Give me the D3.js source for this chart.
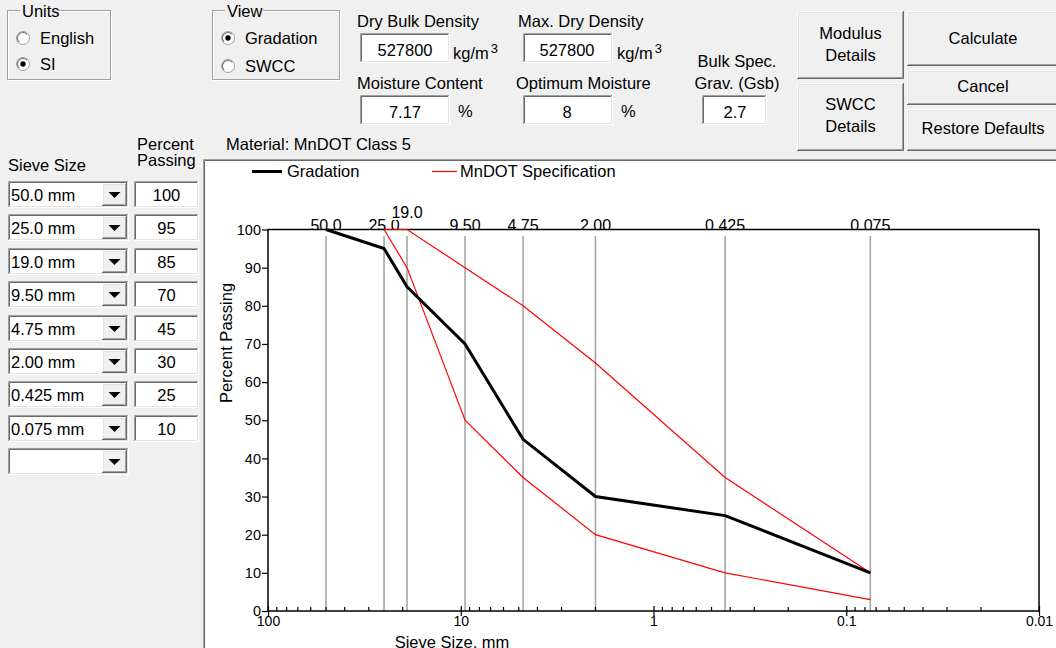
<!DOCTYPE html>
<html>
<head>
<meta charset="utf-8">
<script src="https://cdn.jsdelivr.net/npm/d3@7"></script>
<style>
  html, body { margin: 0; padding: 0; background: #f0f0f0; }
  svg { display: block; font-family: "Liberation Sans", Arial, sans-serif; }
</style>
</head>
<body>
<svg id="win" width="1056" height="648"></svg>
<script>
// ---- data ----
const sieveSizes    = [50, 25, 19, 9.5, 4.75, 2, 0.425, 0.075];
const sieveNames    = ["50.0 mm", "25.0 mm", "19.0 mm", "9.50 mm", "4.75 mm", "2.00 mm", "0.425 mm", "0.075 mm"];
const sieveTopLabels = ["50.0", "25.0", "19.0", "9.50", "4.75", "2.00", "0.425", "0.075"];
const percentPassing = [100, 95, 85, 70, 45, 30, 25, 10];
const specSizes  = [25, 19, 9.5, 4.75, 2, 0.425, 0.075];
const specUpper  = [100, 100, 90, 80, 65, 35, 10];
const specLower  = [100, 90, 50, 35, 20, 10, 3];
const xMajorTicks = [100, 10, 1, 0.1, 0.01];
const xTickLabels = ["100", "10", "1", "0.1", "0.01"];
const yTicks = [0, 10, 20, 30, 40, 50, 60, 70, 80, 90, 100];
const fieldValues = { dryBulk: "527800", maxDry: "527800", moisture: "7.17", optimum: "8", gsb: "2.7" };

const svg = d3.select("#win");
const FONT = 16.5;

// ---- window-control helpers ----
function raised(g, x, y, w, h) {
  g.append("rect").attr("x", x).attr("y", y).attr("width", w).attr("height", h).attr("fill", "#f0f0f0");
  const p = (d, c) => g.append("path").attr("d", d).attr("stroke", c).attr("fill", "none").attr("stroke-width", 1);
  p(`M${x+0.5},${y+h-1}V${y+0.5}H${x+w-1}`, "#ffffff");
  p(`M${x+1.5},${y+h-2}V${y+1.5}H${x+w-2}`, "#e3e3e3");
  p(`M${x},${y+h-0.5}H${x+w-0.5}V${y}`, "#696969");
  p(`M${x+1},${y+h-1.5}H${x+w-1.5}V${y+1}`, "#a0a0a0");
}
function sunken(g, x, y, w, h, fill) {
  g.append("rect").attr("x", x).attr("y", y).attr("width", w).attr("height", h).attr("fill", fill || "#ffffff");
  const p = (d, c) => g.append("path").attr("d", d).attr("stroke", c).attr("fill", "none").attr("stroke-width", 1);
  p(`M${x+0.5},${y+h-1}V${y+0.5}H${x+w-1}`, "#a0a0a0");
  p(`M${x+1.5},${y+h-2}V${y+1.5}H${x+w-2}`, "#696969");
  p(`M${x},${y+h-0.5}H${x+w-0.5}V${y}`, "#ffffff");
  p(`M${x+1},${y+h-1.5}H${x+w-1.5}V${y+1}`, "#e3e3e3");
}
function label(g, x, y, s, anchor, size) {
  return g.append("text").attr("x", x).attr("y", y).attr("text-anchor", anchor || "start")
    .attr("font-size", size || FONT).attr("fill", "#000").text(s);
}
function unitCubed(g, x, y) {
  const t = label(g, x, y, "kg/m");
  t.append("tspan").attr("dx", 2).attr("dy", -6).attr("font-size", 13).text("3");
}
function groupBox(g, x, y, w, h, title, titleW) {
  g.append("rect").attr("x", x + 0.5).attr("y", y + 0.5).attr("width", w).attr("height", h)
    .attr("fill", "none").attr("stroke", "#ffffff");
  g.append("rect").attr("x", x - 0.5).attr("y", y - 0.5).attr("width", w).attr("height", h)
    .attr("fill", "none").attr("stroke", "#a0a0a0");
  g.append("rect").attr("x", x + 12).attr("y", y - 3).attr("width", titleW).attr("height", 6).attr("fill", "#f0f0f0");
  label(g, x + 14, y + 6, title);
}
function radio(g, cx, cy, checked, text) {
  g.append("circle").attr("cx", cx).attr("cy", cy).attr("r", 6.5).attr("fill", "#fff").attr("stroke", "#a0a0a0");
  g.append("path").attr("d", d3.arc()({ innerRadius: 5, outerRadius: 6, startAngle: -Math.PI * 0.75, endAngle: Math.PI * 0.25 }))
    .attr("transform", `translate(${cx},${cy})`).attr("fill", "#696969");
  if (checked) g.append("circle").attr("cx", cx).attr("cy", cy).attr("r", 2.7).attr("fill", "#000");
  label(g, cx + 17, cy + 6, text);
}
function button(g, x, y, w, h, lines, baselines) {
  raised(g, x, y, w, h);
  lines.forEach((s, i) => label(g, x + w / 2, baselines[i], s, "middle"));
}
function field(g, x, y, w, h, value, tx) {
  sunken(g, x, y, w, h);
  label(g, tx, y + 22.5, value, "middle");
}

const ui = svg.append("g");

// option groups
groupBox(ui, 8, 11, 103, 69, "Units", 38);
radio(ui, 23, 38, false, "English");
radio(ui, 23, 64, true, "SI");
groupBox(ui, 213, 11, 127, 69, "View", 38);
radio(ui, 228, 38, true, "Gradation");
radio(ui, 228, 66, false, "SWCC");

// density / moisture fields
label(ui, 357, 27, "Dry Bulk Density");
field(ui, 360, 33, 90, 30, fieldValues.dryBulk, 405);
unitCubed(ui, 453, 59);
label(ui, 518, 27, "Max. Dry Density");
field(ui, 523, 33, 90, 30, fieldValues.maxDry, 567);
unitCubed(ui, 617, 59);
label(ui, 357, 89, "Moisture Content");
field(ui, 360, 95, 90, 30, fieldValues.moisture, 405);
label(ui, 458, 117, "%");
label(ui, 516, 89, "Optimum Moisture");
field(ui, 523, 95, 90, 30, fieldValues.optimum, 567);
label(ui, 621, 117, "%");
label(ui, 737, 67, "Bulk Spec.", "middle");
label(ui, 737, 89, "Grav. (Gsb)", "middle");
field(ui, 702, 95, 65, 30, fieldValues.gsb, 735);

// command buttons
button(ui, 797, 11, 107, 68, ["Modulus", "Details"], [39, 61]);
button(ui, 797, 83, 107, 68, ["SWCC", "Details"], [110, 132]);
button(ui, 907, 11, 152, 55, ["Calculate"], [44]);
button(ui, 907, 70, 152, 35, ["Cancel"], [92]);
button(ui, 907, 109, 152, 42, ["Restore Defaults"], [134]);

// sieve table
label(ui, 8, 171, "Sieve Size");
label(ui, 137, 150, "Percent");
label(ui, 137, 166, "Passing");
label(ui, 226, 150, "Material: MnDOT Class 5");

const rowTop = d3.scaleLinear().domain([0, 1]).range([181, 214.4]);
const rows = sieveNames.concat([""]);
rows.forEach((name, i) => {
  const y = Math.round(rowTop(i));
  sunken(ui, 8, y, 121, 27);
  raised(ui, 102, y + 2, 25, 23);
  ui.append("path").attr("d", `M${108.5},${y + 11}h12l-6,6z`).attr("fill", "#000");
  if (name) label(ui, 11, y + 19.5, name);
  if (i < percentPassing.length) {
    sunken(ui, 134, y, 65, 27);
    label(ui, 166.5, y + 19.5, String(percentPassing[i]), "middle");
  }
});

// ---- chart panel ----
const panel = svg.append("g");
panel.append("rect").attr("x", 203).attr("y", 159).attr("width", 853).attr("height", 489).attr("fill", "#fff");
panel.append("path").attr("d", "M203.5,648V159.5H1056").attr("stroke", "#a0a0a0").attr("fill", "none");
panel.append("path").attr("d", "M204.5,648V160.5H1056").attr("stroke", "#696969").attr("fill", "none");

const x = d3.scaleLog().domain([100, 0.01]).range([268, 1039]);
const y = d3.scaleLinear().domain([0, 100]).range([611, 229.5]);
const chart = panel.append("g");

// legend
chart.append("line").attr("x1", 252).attr("x2", 282).attr("y1", 171.5).attr("y2", 171.5).attr("stroke", "#000").attr("stroke-width", 3);
label(chart, 287, 177, "Gradation");
chart.append("line").attr("x1", 432).attr("x2", 457).attr("y1", 171.5).attr("y2", 171.5).attr("stroke", "#ff0000").attr("stroke-width", 1.2);
label(chart, 460, 177, "MnDOT Specification");

// sieve gridlines
chart.append("g").selectAll("line").data(sieveSizes).join("line")
  .attr("x1", d => x(d)).attr("x2", d => x(d))
  .attr("y1", y(100) + 6.5).attr("y2", y(0))
  .attr("stroke", "#a0a0a0").attr("stroke-width", 1.5);

// sieve labels along the top; a label that would collide with its neighbour is lifted
const topClip = svg.append("defs").append("clipPath").attr("id", "topclip");
topClip.append("rect").attr("x", 204).attr("y", 160).attr("width", 852).attr("height", y(100) - 160);
const topG = chart.append("g").attr("clip-path", "url(#topclip)");
let prevRight = -Infinity;
sieveTopLabels.forEach((s, i) => {
  const cx = x(sieveSizes[i]);
  const t = topG.append("text").attr("x", cx).attr("y", y(100) + 1.5).attr("text-anchor", "middle")
    .attr("font-size", 16).text(s);
  const bb = t.node().getBBox();
  if (bb.x < prevRight) {
    t.attr("y", y(100) - 11.5);
    const b2 = t.node().getBBox();
    topG.append("rect").attr("x", b2.x - 4).attr("y", b2.y - 2).attr("width", b2.width + 10).attr("height", b2.height + 1)
      .attr("fill", "#fff");
    t.raise();
  }
  prevRight = t.node().getBBox().x + t.node().getBBox().width;
});

// plot frame
chart.append("rect").attr("x", x(100)).attr("y", y(100)).attr("width", x(0.01) - x(100)).attr("height", y(0) - y(100))
  .attr("fill", "none").attr("stroke", "#000").attr("stroke-width", 1.5);

// y axis
const yAxis = d3.axisLeft(y).tickValues(yTicks).tickSize(6).tickPadding(1).tickSizeOuter(0);
const yg = chart.append("g").attr("transform", `translate(${x(100)},0)`).call(yAxis);
yg.select(".domain").remove();
yg.selectAll("line").attr("stroke", "#000").attr("stroke-width", 1.2);
yg.selectAll("text").attr("font-size", 14.5).attr("font-family", "Liberation Sans, Arial, sans-serif").attr("fill", "#000");

// x axis: major decades cross the axis, minor ticks sit above it
const minorTicks = [];
xMajorTicks.slice(0, -1).forEach(d => { for (let k = 2; k <= 9; k++) minorTicks.push(d / 10 * k); });
chart.append("g").selectAll("line").data(minorTicks).join("line")
  .attr("x1", d => x(d)).attr("x2", d => x(d)).attr("y1", y(0) - 4).attr("y2", y(0))
  .attr("stroke", "#000").attr("stroke-width", 1.2);
const xAxis = d3.axisBottom(x).tickValues(xMajorTicks).tickFormat((d, i) => xTickLabels[i]).tickSize(5).tickPadding(0).tickSizeOuter(0);
const xg = chart.append("g").attr("transform", `translate(0,${y(0)})`).call(xAxis);
xg.select(".domain").remove();
xg.selectAll("line").attr("stroke", "#000").attr("stroke-width", 1.2).attr("y1", -5);
xg.selectAll("text").attr("font-size", 14).attr("font-family", "Liberation Sans, Arial, sans-serif").attr("fill", "#000");

// axis titles
label(chart, 452, 648, "Sieve Size, mm", "middle");
label(chart, 0, 0, "Percent Passing", "middle").attr("transform", "translate(232,343) rotate(-90)");

// specification band
const line = d3.line().x(d => x(d[0])).y(d => y(d[1]));
[specUpper, specLower].forEach(arr => {
  chart.append("path").attr("d", line(specSizes.map((s, i) => [s, arr[i]])))
    .attr("fill", "none").attr("stroke", "#ff0000").attr("stroke-width", 1.2);
});

// gradation curve
chart.append("path").attr("d", line(sieveSizes.map((s, i) => [s, percentPassing[i]])))
  .attr("fill", "none").attr("stroke", "#000").attr("stroke-width", 3).attr("stroke-linejoin", "miter");
</script>
</body>
</html>
